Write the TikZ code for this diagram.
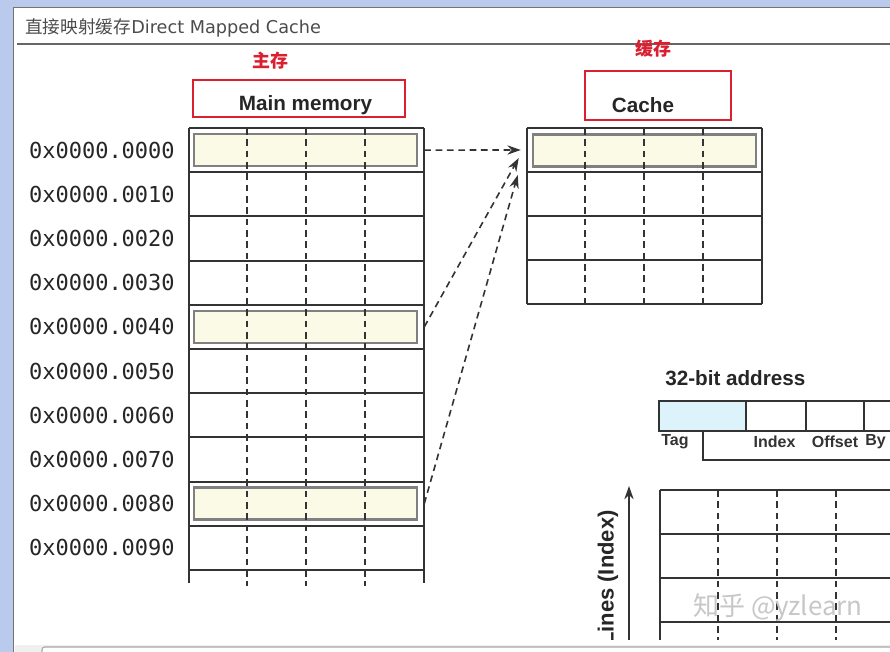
\documentclass[tikz,border=0pt]{standalone}
\usepackage{fontspec}
\setmainfont{Liberation Sans}
\newfontfamily\cjk{Noto Sans CJK SC}
\newfontfamily\dejavu{DejaVu Sans}
\newfontfamily\addrfont{DejaVu Sans Mono}
\usetikzlibrary{arrows.meta}
\definecolor{frameblue}{HTML}{B9CAEC}
\definecolor{boxred}{HTML}{DA2030}
\definecolor{hiyellow}{HTML}{FAFAE6}
\definecolor{tagblue}{HTML}{DDF3FB}
\begin{document}
\begin{tikzpicture}[x=0.75pt,y=-0.75pt,>={Stealth[length=10pt,width=7pt]},
	grid/.style={line width=1.5pt,draw=black!80},
	sep/.style={line width=1.2pt,draw=black!80,dash pattern=on 5pt off 3.5pt},
	hilite/.style={draw=black!50,line width=1.8pt,fill=hiyellow,minimum width=167pt,minimum height=24pt,inner sep=0pt},
	memrow/.style={minimum width=176.25pt,minimum height=33pt,inner sep=0pt},
	redbox/.style={draw=boxred,line width=1.6pt},
	addr/.style={font=\addrfont\fontsize{16.5pt}{18pt}\selectfont,text=black!85,anchor=east,inner sep=0pt},
	head/.style={font=\bfseries\fontsize{15.5pt}{17pt}\selectfont,text=black!85,inner sep=0pt},
	field/.style={font=\bfseries\fontsize{12pt}{13pt}\selectfont,text=black!80,inner sep=0pt}]
	\useasboundingbox (0,0) rectangle (890,652);
	% window frame
	\fill[white] (0,0) rectangle (890,652);
	\fill[frameblue] (0,0) rectangle (890,7);
	\fill[frameblue] (0,0) rectangle (13,652);
	\fill[black!6] (15,645) rectangle (890,652);
	\draw[black!55,line width=1pt] (13.5,652) -- (13.5,7.5) -- (890,7.5);
	\draw[black!60,line width=1pt] (17,44) -- (890,44);
	\draw[black!35,line width=0.8pt,fill=white,rounded corners=2pt] (42,647) rectangle (900,670);
	\node[anchor=west,inner sep=0pt,text=black!70,font=\fontsize{13.25pt}{14pt}\selectfont] (title) at (25,28) {{\cjk 直接映射缓存}{\dejavu Direct Mapped Cache}};
	% labels
	\node[text=boxred,font=\cjk\bfseries\fontsize{13.5pt}{14pt}\selectfont] (zhu) at (270,61) {主存};
	\node[text=boxred,font=\cjk\bfseries\fontsize{13.5pt}{14pt}\selectfont] (huan) at (653,49) {缓存};
	\draw[redbox] (193,80) rectangle (405,117);
	\draw[redbox] (585,71) rectangle (731,120);
	\node[head] (mm) at (305.5,105) {Main memory};
	\node[head] (ca) at (643,105) {Cache};
	% main memory
	\foreach \i in {0,4,8}
		\node[hilite] (m\i) at (305.5,150.1+44.2*\i) {};
	\foreach \i in {0,...,10}
		\draw[grid] (189,128+44.2*\i) -- (424,128+44.2*\i);
	\draw[grid] (189,128) -- (189,583);
	\draw[grid] (424,128) -- (424,583);
	\foreach \x in {247,306,365}
		\draw[sep] (\x,128) -- (\x,586);
	\foreach \i in {0,...,9}{
		\node[memrow] (mrow\i) at (306.5,150.1+44.2*\i) {};
		\node[addr] (a\i) at (175,150.1+44.2*\i) {0x0000.00\i0};
	}
	% cache
	\node[hilite] (c0) at (644.5,150.5) {};
	\node[memrow] (crow0) at (644.5,150) {};
	\foreach \i in {0,...,4}
		\draw[grid] (527,128+44*\i) -- (762,128+44*\i);
	\draw[grid] (527,128) -- (527,304);
	\draw[grid] (762,128) -- (762,304);
	\foreach \x in {585,644,703}
		\draw[sep] (\x,128) -- (\x,304);
	% mapping
	\draw[sep,->] (mrow0.east) -- ([xshift=-4.5pt]crow0.west);
	\draw[sep,->] (mrow4.east) -- ([xshift=-6pt,yshift=-6pt]crow0.west);
	\draw[sep,->] (mrow8.east) -- ([xshift=-6.75pt,yshift=-18.75pt]crow0.west);
	% address
	\begin{scope}
	\clip (15,45) rectangle (890,639);
	\node[head,anchor=west,font=\bfseries\fontsize{15.5pt}{17pt}\selectfont] (bits) at (665,378) {32-bit address};
	\draw[grid,line width=1.2pt,fill=tagblue] (659,401) rectangle (746,431);
	\draw[grid,line width=1.2pt] (746,401) rectangle (806,431);
	\draw[grid,line width=1.2pt] (806,401) rectangle (864,431);
	\draw[grid,line width=1.2pt] (864,401) rectangle (924,431);
	\node[field,anchor=west] (tag) at (661,442) {Tag};
	\node[field] (idx) at (774.5,442) {Index};
	\node[field] (off) at (835,442) {Offset};
	\node[field,anchor=west] (byt) at (865,442) {By};
	\draw[grid,line width=1.2pt] (703,431) -- (703,460) -- (900,460);
	% lines
	\foreach \y in {490,534,578,622}
		\draw[grid] (660,\y) -- (900,\y);
	\draw[grid] (660,490) -- (660,645);
	\foreach \x in {718,777,836}
		\draw[sep] (\x,490) -- (\x,645);
	\coordinate (axbot) at (629,645);
	\coordinate (axtop) at (629,486);
	\draw[black!80,line width=1pt,->] (axbot) -- (axtop);
	\node[head,rotate=90,anchor=east,font=\bfseries\fontsize{16.5pt}{18pt}\selectfont] (lin) at (608,510) {Lines (Index)};
	\node[text=black!22,font=\cjk\fontsize{19.5pt}{20pt}\selectfont] (wm) at (778,608) {知乎 @yzlearn};
	\end{scope}
\end{tikzpicture}
\end{document}
